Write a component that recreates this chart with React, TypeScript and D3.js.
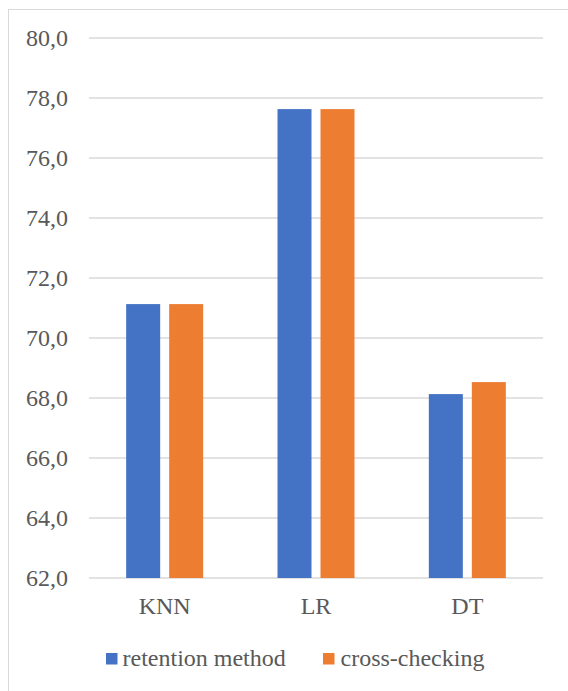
import React from "react";
import * as d3 from "d3";

const categories = ["KNN", "LR", "DT"];
const seriesNames = ["retention method", "cross-checking"];
const retention = [71.13, 77.63, 68.13];
const crossChecking = [71.13, 77.63, 68.53];
const yTicks = [62, 64, 66, 68, 70, 72, 74, 76, 78, 80];

const W = 568;
const H = 691;
const colors = ["#4472C4", "#ED7D31"];
const textColor = "#595959";
const font = "Liberation Serif";

export default function App() {
  const plotLeft = 89;
  const plotRight = 543;
  const plotTop = 38;
  const plotBottom = 578;

  const y = d3.scaleLinear().domain([62, 80]).range([plotBottom, plotTop]);
  const x0 = d3.scaleBand<string>().domain(categories).range([plotLeft, plotRight]).padding(0);
  const barW = 34;
  const gap = 9;
  const x1 = d3
    .scaleBand<string>()
    .domain(seriesNames)
    .range([-(barW + gap / 2), barW + gap / 2])
    .paddingInner(gap / (barW + gap))
    .paddingOuter(0);

  const series = [retention, crossChecking];
  const fmt = (v: number) => v.toFixed(1).replace(".", ",");
  const ts: React.CSSProperties = { fontFamily: font, fontSize: 24, fill: textColor };

  return (
    <svg
      width={W}
      height={H}
      style={{ position: "absolute", left: 0, top: 0, background: "#fff" }}
    >
      <rect x={8.5} y={9.5} width={W} height={H} fill="#fff" stroke="#d9d9d9" strokeWidth={1} />
      {yTicks.map((t) => (
        <g key={t}>
          <line
            x1={plotLeft}
            x2={plotRight}
            y1={y(t)}
            y2={y(t)}
            stroke="#d9d9d9"
            strokeWidth={1.3}
          />
          <text x={68} y={y(t) + 8} textAnchor="end" style={ts}>
            {fmt(t)}
          </text>
        </g>
      ))}
      {categories.map((c, i) => (
        <g key={c} transform={`translate(${x0(c)! + x0.bandwidth() / 2},0)`}>
          {seriesNames.map((s, j) => (
            <rect
              key={s}
              x={x1(s)!}
              width={x1.bandwidth()}
              y={y(series[j][i])}
              height={y(62) - y(series[j][i])}
              fill={colors[j]}
            />
          ))}
          <text x={0} y={614} textAnchor="middle" style={ts}>
            {c}
          </text>
        </g>
      ))}
      <g>
        <rect x={106} y={653} width={11.5} height={11.5} fill={colors[0]} />
        <text x={122.5} y={666} style={ts}>
          {seriesNames[0]}
        </text>
        <rect x={323} y={653} width={11.5} height={11.5} fill={colors[1]} />
        <text x={340.5} y={666} style={ts}>
          {seriesNames[1]}
        </text>
      </g>
    </svg>
  );
}
